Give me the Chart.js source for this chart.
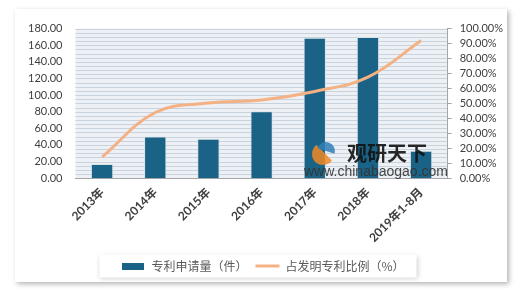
<!DOCTYPE html>
<html>
<head>
<meta charset="utf-8">
<script src="https://cdn.jsdelivr.net/npm/chart.js@4/dist/chart.umd.min.js"></script>
<style>
    html, body { margin: 0; padding: 0; background: #fff; }
    #card {
        position: absolute;
        left: 15px;
        top: 9px;
        width: 492px;
        height: 273px;
        background: #fff;
        box-shadow: 2px 2px 5px rgba(0, 0, 0, 0.3);
    }
</style>
</head>
<body>
<div id="card"><canvas id="chart"></canvas></div>
<script>
// Datos del gráfico
const categorias = ['2013年', '2014年', '2015年', '2016年', '2017年', '2018年', '2019年1-8月'];
const solicitudes = [17, 50, 47.5, 80.5, 169, 170, 33];
const proporcion = [14.1, 43.9, 50.2, 52.3, 58.0, 67.5, 92.0];
const ticksIzq = [0, 20, 40, 60, 80, 100, 120, 140, 160, 180];
const ticksDer = [0, 10, 20, 30, 40, 50, 60, 70, 80, 90, 100];

const COLOR_BARRA = '#1b6386';
const COLOR_LINEA = '#f4b183';
const FUENTE = "Lato, 'Noto Sans CJK SC', sans-serif";

// Icono rectangular para la leyenda de barras
function iconoBarra() {
    const c = document.createElement('canvas');
    c.width = 22;
    c.height = 7;
    const ctx = c.getContext('2d');
    ctx.fillStyle = COLOR_BARRA;
    ctx.fillRect(0, 0, 22, 7);
    return c;
}

// Fondo rayado del área de trazado y recuadro de la leyenda
const fondoPlugin = {
    id: 'fondo',
    beforeDraw(chart) {
        const ctx = chart.ctx;
        const area = chart.chartArea;
        const y = chart.scales.y;
        ctx.save();
        ctx.fillStyle = '#edf1f5';
        ctx.fillRect(area.left, area.top, area.right - area.left, area.bottom - area.top);
        ctx.strokeStyle = '#c9d3dd';
        ctx.lineWidth = 1;
        for (let v = 5; v <= 180; v += 5) {
            const py = Math.round(y.getPixelForValue(v)) + 0.5;
            ctx.beginPath();
            ctx.moveTo(area.left, py);
            ctx.lineTo(area.right, py);
            ctx.stroke();
        }

        // recuadro blanco con sombra detrás de la leyenda
        const cajas = chart.legend.legendHitBoxes;
        if (cajas && cajas.length) {
            const primera = cajas[0];
            const ultima = cajas[cajas.length - 1];
            const x0 = primera.left - 22;
            const x1 = ultima.left + ultima.width + 12;
            const y0 = primera.top + primera.height / 2 - 11.5;
            ctx.shadowColor = 'rgba(0, 0, 0, 0.18)';
            ctx.shadowBlur = 5;
            ctx.shadowOffsetX = 1;
            ctx.shadowOffsetY = 1;
            ctx.fillStyle = '#fff';
            ctx.fillRect(x0, y0, x1 - x0, 23);
        }
        ctx.restore();
    }
};

// Marca de agua (coordenadas del lienzo)
const marcaPlugin = {
    id: 'marca',
    afterDraw(chart) {
        const ctx = chart.ctx;
        ctx.save();
        ctx.globalAlpha = 0.85;
        ctx.fillStyle = '#f08a24';
        ctx.beginPath();
        ctx.arc(308, 145, 11, 0.2 * Math.PI, 1.3 * Math.PI);
        ctx.fill();
        ctx.fillStyle = '#2f7fb8';
        ctx.beginPath();
        ctx.arc(311, 142, 9, 1.1 * Math.PI, 2.1 * Math.PI);
        ctx.fill();
        ctx.restore();

        ctx.save();
        ctx.globalAlpha = 0.9;
        ctx.fillStyle = '#111';
        ctx.font = "bold 20px 'Noto Sans CJK SC'";
        ctx.textBaseline = 'middle';
        ctx.fillText('观研天下', 332, 144);
        ctx.fillStyle = '#333';
        ctx.font = "14px 'Liberation Sans'";
        ctx.fillText('www.chinabaogao.com', 289, 163);
        ctx.restore();
    }
};

new Chart(document.getElementById('chart'), {
    type: 'bar',
    data: {
        labels: categorias,
        datasets: [
            {
                type: 'bar',
                label: '专利申请量（件）',
                data: solicitudes,
                yAxisID: 'y',
                backgroundColor: COLOR_BARRA,
                borderColor: 'rgba(215, 225, 232, 0.9)',
                borderWidth: 1,
                barPercentage: 0.42,
                categoryPercentage: 1,
                pointStyle: iconoBarra(),
                order: 1
            },
            {
                type: 'line',
                label: '占发明专利比例（%）',
                data: proporcion,
                yAxisID: 'y1',
                borderColor: COLOR_LINEA,
                backgroundColor: COLOR_LINEA,
                borderWidth: 3,
                tension: 0.4,
                pointRadius: 0,
                pointStyle: 'line',
                order: 0
            }
        ]
    },
    options: {
        responsive: true,
        maintainAspectRatio: false,
        animation: false,
        layout: {
            padding: { left: 0, right: -4, top: 6, bottom: 0 }
        },
        scales: {
            x: {
                grid: { display: false, drawTicks: false },
                border: { color: '#a6a6a6' },
                ticks: {
                    color: '#404040',
                    maxRotation: 45,
                    minRotation: 45,
                    padding: 7,
                    font: { family: FUENTE, size: 12, weight: 'bold' }
                }
            },
            y: {
                position: 'left',
                min: 0,
                max: 180,
                afterBuildTicks: (axis) => { axis.ticks = ticksIzq.map(v => ({ value: v })); },
                grid: { display: false, drawTicks: false },
                border: { display: false },
                ticks: {
                    autoSkip: false,
                    color: '#404040',
                    padding: 13,
                    font: { family: FUENTE, size: 11 },
                    callback: (v) => v.toFixed(2)
                }
            },
            y1: {
                position: 'right',
                min: 0,
                max: 100,
                afterBuildTicks: (axis) => { axis.ticks = ticksDer.map(v => ({ value: v })); },
                grid: {
                    drawOnChartArea: false,
                    tickLength: 4,
                    color: '#a6a6a6'
                },
                border: { color: '#a6a6a6' },
                ticks: {
                    autoSkip: false,
                    color: '#404040',
                    padding: 8,
                    font: { family: FUENTE, size: 11 },
                    callback: (v) => v.toFixed(2) + '%'
                }
            }
        },
        plugins: {
            tooltip: { enabled: false },
            legend: {
                position: 'bottom',
                labels: {
                    usePointStyle: true,
                    pointStyleWidth: 24,
                    color: '#595959',
                    padding: 8,
                    font: { family: "'Noto Sans CJK SC', sans-serif", size: 12 },
                    sort: (a, b) => a.datasetIndex - b.datasetIndex
                }
            }
        }
    },
    plugins: [fondoPlugin, marcaPlugin]
});
</script>
</body>
</html>
